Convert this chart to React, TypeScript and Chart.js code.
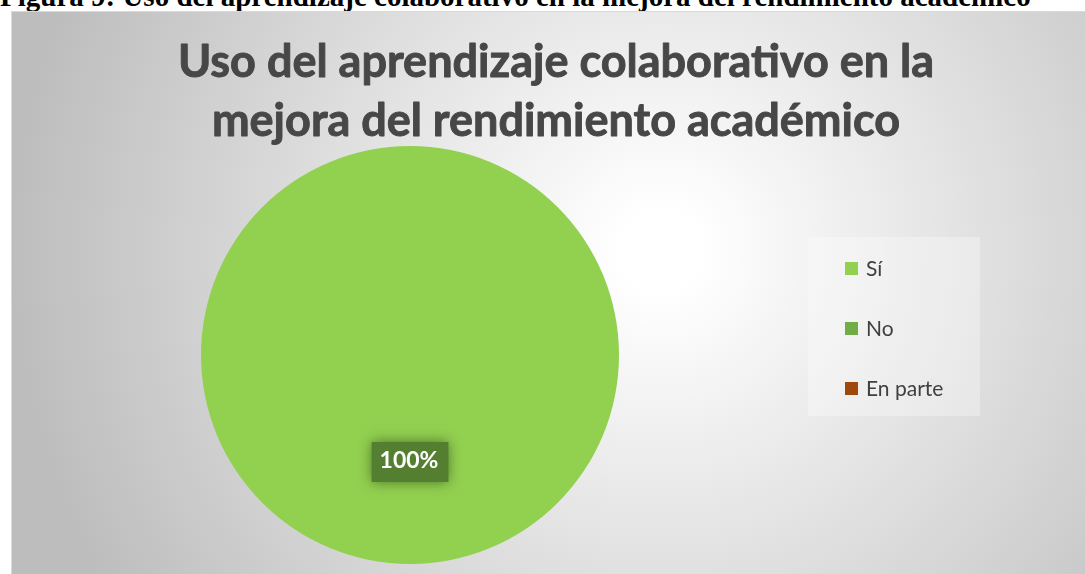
import React, { useEffect, useRef } from "react";
import { Chart, registerables } from "chart.js";
Chart.register(...registerables);

const categories = ["Sí", "No", "En parte"];
const values = [100, 0, 0];
const percentLabels = ["100%", "0%", "0%"];
const colors = ["#92D050", "#70AD47", "#9E480E"];
const titleLines = ["Uso del aprendizaje colaborativo en la", "mejora del rendimiento académico"];
const caption = "Figura 9: Uso del aprendizaje colaborativo en la mejora del rendimiento académico";

const W = 1074;
const H = 563;

const bgPlugin = {
  id: "bgPlugin",
  beforeDraw(chart: any) {
    const ctx = chart.ctx;
    ctx.save();
    const g = ctx.createRadialGradient(650, 240, 40, 650, 240, 650);
    g.addColorStop(0, "#ffffff");
    g.addColorStop(1, "#bdbdbd");
    ctx.fillStyle = g;
    ctx.fillRect(0, 0, W, H);
    ctx.strokeStyle = "#d9d9d9";
    ctx.lineWidth = 1;
    ctx.beginPath();
    ctx.moveTo(0.5, H);
    ctx.lineTo(0.5, 0.5);
    ctx.lineTo(W, 0.5);
    ctx.stroke();
    ctx.restore();
  },
};

const titlePlugin = {
  id: "titlePlugin",
  afterDraw(chart: any) {
    const ctx = chart.ctx;
    ctx.save();
    ctx.fillStyle = "#474747";
    ctx.strokeStyle = "#474747";
    ctx.lineWidth = 0.9;
    ctx.lineJoin = "round";
    ctx.font = "bold 45px Lato";
    ctx.textAlign = "center";
    ctx.textBaseline = "alphabetic";
    ctx.fillText(titleLines[0], 545, 66);
    ctx.strokeText(titleLines[0], 545, 66);
    ctx.fillText(titleLines[1], 545, 125);
    ctx.strokeText(titleLines[1], 545, 125);
    ctx.restore();
  },
};

const legendPlugin = {
  id: "legendPlugin",
  afterDraw(chart: any) {
    const ctx = chart.ctx;
    ctx.save();
    ctx.fillStyle = "rgba(255,255,255,0.3)";
    ctx.fillRect(797, 226, 172, 179);
    const ys = [257, 317, 377];
    categories.forEach((c, i) => {
      ctx.fillStyle = colors[i];
      ctx.fillRect(834, ys[i] - 6, 13, 13);
      ctx.fillStyle = "#404040";
      ctx.font = "21px Lato";
      ctx.textAlign = "left";
      ctx.textBaseline = "middle";
      ctx.fillText(c, 855, ys[i] + 1);
    });
    ctx.restore();
  },
};

const labelPlugin = {
  id: "labelPlugin",
  afterDatasetsDraw(chart: any) {
    const ctx = chart.ctx;
    const meta = chart.getDatasetMeta(0);
    meta.data.forEach((arc: any, i: number) => {
      if (!values[i]) return;
      const p = arc.tooltipPosition();
      ctx.save();
      ctx.font = "bold 23px Lato";
      const tw = ctx.measureText(percentLabels[i]).width;
      ctx.shadowColor = "rgba(70,110,40,0.95)";
      ctx.shadowBlur = 12;
      ctx.fillStyle = "#557f30";
      ctx.fillRect(p.x - tw / 2 - 9, p.y - 17.5, tw + 18, 40);
      ctx.shadowBlur = 0;
      ctx.fillStyle = "#ffffff";
      ctx.textAlign = "center";
      ctx.textBaseline = "middle";
      ctx.fillText(percentLabels[i], p.x - 1, p.y + 1);
      ctx.restore();
    });
  },
};

export default function App() {
  const ref = useRef<HTMLCanvasElement>(null);
  useEffect(() => {
    document.body.style.margin = "0";
    const chart = new Chart(ref.current!, {
      type: "pie",
      data: {
        labels: categories,
        datasets: [
          {
            data: values,
            backgroundColor: colors,
            borderWidth: 0,
          },
        ],
      },
      options: {
        animation: false,
        responsive: false,
        maintainAspectRatio: false,
        layout: { padding: { left: 190, right: 466, top: 135, bottom: 10 } },
        plugins: {
          legend: { display: false },
          title: { display: false },
          tooltip: { enabled: false },
        },
      },
      plugins: [bgPlugin, titlePlugin, legendPlugin, labelPlugin],
    } as any);
    return () => chart.destroy();
  }, []);
  return (
    <div style={{ position: "relative", width: 1085, height: 574, overflow: "hidden", background: "#fff" }}>
      <div
        style={{
          position: "absolute",
          left: 0,
          top: -18,
          fontFamily: "'Liberation Serif', 'Times New Roman', serif",
          fontWeight: "bold",
          fontSize: 29,
          lineHeight: "29px",
          whiteSpace: "nowrap",
          color: "#000",
        }}
      >
        {caption}
      </div>
      <canvas
        ref={ref}
        width={W}
        height={H}
        style={{ position: "absolute", left: 11, top: 11, width: W, height: H }}
      />
    </div>
  );
}
